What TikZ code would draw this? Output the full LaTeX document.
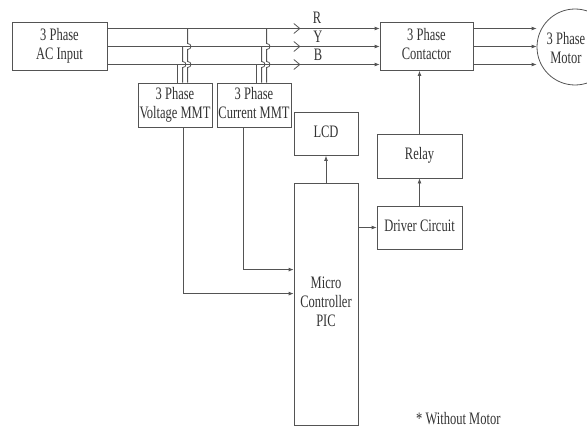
\documentclass[tikz,border=0pt]{standalone}
\usepackage{fontspec}
\setmainfont{Liberation Serif}
\usepackage{graphicx}
\usetikzlibrary{arrows.meta,calc,decorations.markings}
\definecolor{lc}{gray}{0.33}
\definecolor{tc}{gray}{0.2}
\newcommand\stx[1]{{\fontsize{12.5}{13.5}\selectfont\scalebox{1}[1.4]{\begin{tabular}{@{}c@{}}#1\end{tabular}}}}
\tikzset{
  box/.style={draw=lc, line width=0.8pt, rectangle, inner sep=0pt, text=tc},
  conn/.style={draw=lc, line width=0.8pt},
  arr/.style={-{Latex[length=5pt,width=4pt]}},
  chev/.style={postaction={decorate}, decoration={markings,
      mark=at position 193pt with {\arrow[lc, line width=0.8pt]{Straight Barb[length=6pt,width=10pt]}}}},
  lbl/.style={inner sep=0pt, text=tc}
}
\begin{document}
\begin{tikzpicture}[x=1pt,y=-1pt]
\clip (0,0) rectangle (587,428);
% boxes
\node[box, minimum width=95pt, minimum height=48pt] (ac) at (59.5,46.5) {\stx{3 Phase\\AC Input}};
\node[box, minimum width=93pt, minimum height=48pt] (ct) at (426.5,46.5) {\stx{3 Phase\\Contactor}};
\node[draw=lc, line width=0.8pt, circle, minimum size=76pt, inner sep=0pt] (mo) at (575,47) {};
\node[lbl] (motext) at (566,50) {\stx{3 Phase\\Motor}};
\node[box, minimum width=74pt, minimum height=44pt] (vm) at (175,105) {\stx{3 Phase\\Voltage MMT}};
\node[box, minimum width=74pt, minimum height=44pt] (cm) at (254,105) {\stx{3 Phase\\Current MMT}};
\node[box, minimum width=64pt, minimum height=43pt] (lcd) at (326,134) {\stx{LCD}};
\node[box, minimum width=85pt, minimum height=44pt] (rl) at (419.5,156) {\stx{Relay}};
\node[box, minimum width=85pt, minimum height=43pt] (dr) at (419.5,227.5) {\stx{Driver Circuit}};
\node[box, minimum width=64pt, minimum height=242pt] (mc) at (326,304) {\stx{Micro\\Controller\\PIC}};
% phase levels
\coordinate (yR) at (0,28.5);
\coordinate (yY) at (0,46.5);
\coordinate (yB) at (0,64.5);
% labels
\node[lbl] (lR) at (317,20) {\stx{R}};
\node[lbl] (lY) at (318,38.5) {\stx{Y}};
\node[lbl] (lB) at (318,57) {\stx{B}};
% phase lines
\draw[conn, arr, chev] (ac.east |- yR) -- (ct.west |- yR);
\draw[conn, arr, chev] (ac.east |- yY) -- (ct.west |- yY);
\draw[conn, arr, chev] (ac.east |- yB) -- (ct.west |- yB);
% contactor to motor
\draw[conn, arr] (ct.east |- yR) -- (mo.west |- yR);
\draw[conn, arr] (ct.east |- yY) -- (mo.west |- yY);
\draw[conn, arr] (ct.east |- yB) -- (mo.west |- yB);
% taps voltage
\coordinate (v1) at ($(vm.north west)+(40,0)$);
\coordinate (v2) at ($(vm.north west)+(45,0)$);
\coordinate (v3) at ($(vm.north west)+(50,0)$);
\draw[conn] (v1) -- (v1 |- yB);
\draw[conn] (v2) -- ($(v2 |- yB)+(0,3)$) .. controls +(4.5,0) and +(4.5,0) .. ($(v2 |- yB)+(0,-3)$) -- (v2 |- yY);
\draw[conn] (v3) -- ($(v3 |- yB)+(0,3)$) .. controls +(4.5,0) and +(4.5,0) .. ($(v3 |- yB)+(0,-3)$)
  -- ($(v3 |- yY)+(0,3)$) .. controls +(4.5,0) and +(4.5,0) .. ($(v3 |- yY)+(0,-3)$) -- (v3 |- yR);
% taps current
\coordinate (c1) at ($(cm.north west)+(40,0)$);
\coordinate (c2) at ($(cm.north west)+(45,0)$);
\coordinate (c3) at ($(cm.north west)+(50,0)$);
\draw[conn] (c1) -- (c1 |- yB);
\draw[conn] (c2) -- ($(c2 |- yB)+(0,3)$) .. controls +(4.5,0) and +(4.5,0) .. ($(c2 |- yB)+(0,-3)$) -- (c2 |- yY);
\draw[conn] (c3) -- ($(c3 |- yB)+(0,3)$) .. controls +(4.5,0) and +(4.5,0) .. ($(c3 |- yB)+(0,-3)$)
  -- ($(c3 |- yY)+(0,3)$) .. controls +(4.5,0) and +(4.5,0) .. ($(c3 |- yY)+(0,-3)$) -- (c3 |- yR);
% measurement outputs to MCU
\draw[conn, arr] ($(vm.south west)+(46,0)$) |- ($(mc.north west)+(0,111)$);
\draw[conn, arr] ($(cm.south west)+(27,0)$) |- ($(mc.north west)+(0,87)$);
% MCU outputs
\draw[conn, arr] (mc.north) -- (lcd.south);
\draw[conn, arr] (mc.east |- dr.west) -- (dr.west);
\draw[conn, arr] (dr.north) -- (rl.south);
\draw[conn, arr] (rl.north) -- (rl.north |- ct.south);
% note
\node[lbl, anchor=west] (note) at (416,421) {\stx{* Without Motor}};
\end{tikzpicture}
\end{document}
